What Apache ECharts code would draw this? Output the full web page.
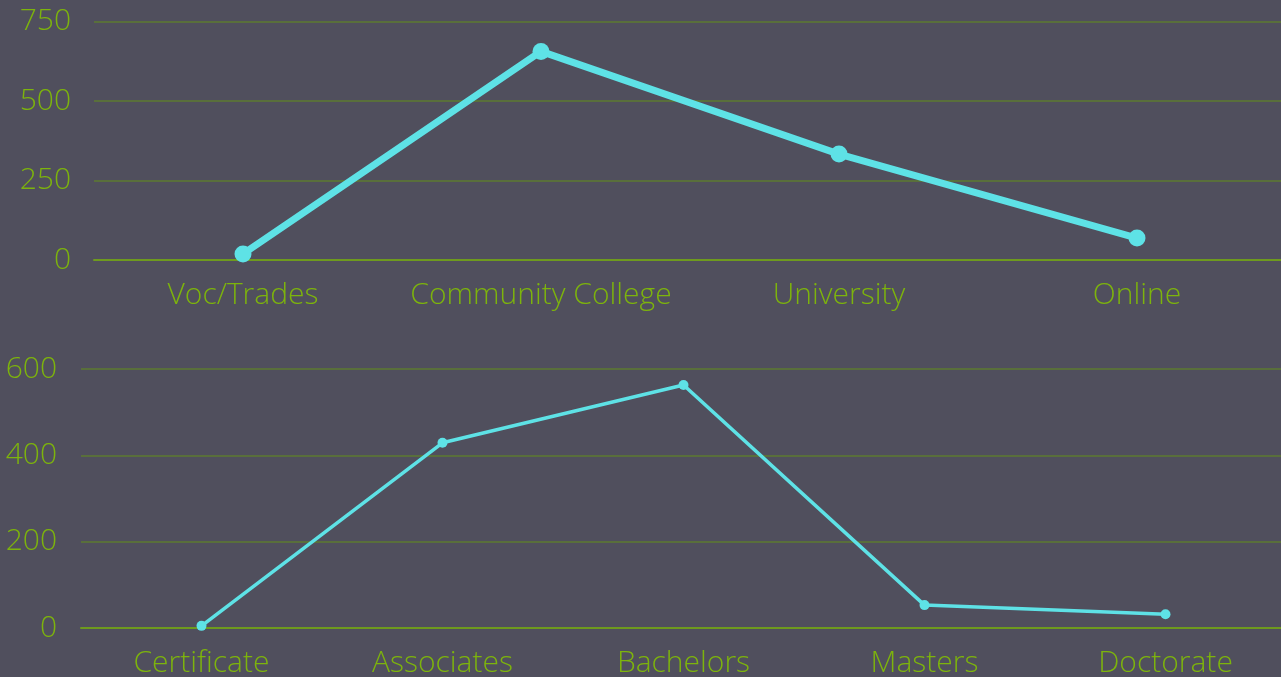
<!DOCTYPE html>
<html><head><meta charset="utf-8">
<script src="https://cdn.jsdelivr.net/npm/echarts@6/dist/echarts.min.js"></script>
<style>html,body{margin:0;padding:0;background:#504f5d;}#c{width:1281px;height:677px;}</style>
</head><body><div id="c"></div>
<script>
const topCategories = ['Voc/Trades', 'Community College', 'University', 'Online'];
const topValues = [19, 656, 333, 69];
const bottomCategories = ['Certificate', 'Associates', 'Bachelors', 'Masters', 'Doctorate'];
const bottomValues = [5, 429, 563, 53, 32];

const textColor = '#7db40c';
const gridColor = '#5c7a30';
const axisColor = '#6e9a1e';
const lineColor = '#5ee2e6';
const font = '"Open Sans", sans-serif';

const chart = echarts.init(document.getElementById('c'), null, {renderer: 'canvas'});
function xAxis(idx, cats) {
  return {
    type: 'category', gridIndex: idx, data: cats, boundaryGap: true,
    axisLine: {show: true, lineStyle: {color: axisColor, width: 2}},
    axisTick: {show: false},
    axisLabel: {color: textColor, fontFamily: font, fontWeight: 300, fontSize: 30, margin: 20, interval: 0, hideOverlap: false},
    splitLine: {show: false}
  };
}
function yAxis(idx, max, interval, margin) {
  return {
    type: 'value', gridIndex: idx, min: 0, max: max, interval: interval,
    axisLine: {show: false}, axisTick: {show: false},
    axisLabel: {color: textColor, fontFamily: font, fontWeight: 300, fontSize: 30, margin: margin},
    splitLine: {show: true, lineStyle: {color: gridColor, width: 1.5}}
  };
}
chart.setOption({
  backgroundColor: '#504f5d',
  animation: false,
  grid: [
    {left: 94, right: -5, top: 21.5, height: 238.5, outerBoundsMode: 'none', containLabel: false},
    {left: 81, right: -5, top: 369, height: 259, outerBoundsMode: 'none', containLabel: false}
  ],
  xAxis: [xAxis(0, topCategories), xAxis(1, bottomCategories)],
  yAxis: [yAxis(0, 750, 250, 23), yAxis(1, 600, 200, 24)],
  series: [
    {type: 'line', xAxisIndex: 0, yAxisIndex: 0, data: topValues,
     lineStyle: {color: lineColor, width: 7}, itemStyle: {color: lineColor},
     symbol: 'circle', symbolSize: 17},
    {type: 'line', xAxisIndex: 1, yAxisIndex: 1, data: bottomValues,
     lineStyle: {color: lineColor, width: 3.5}, itemStyle: {color: lineColor},
     symbol: 'circle', symbolSize: 10}
  ]
});
</script></body></html>
